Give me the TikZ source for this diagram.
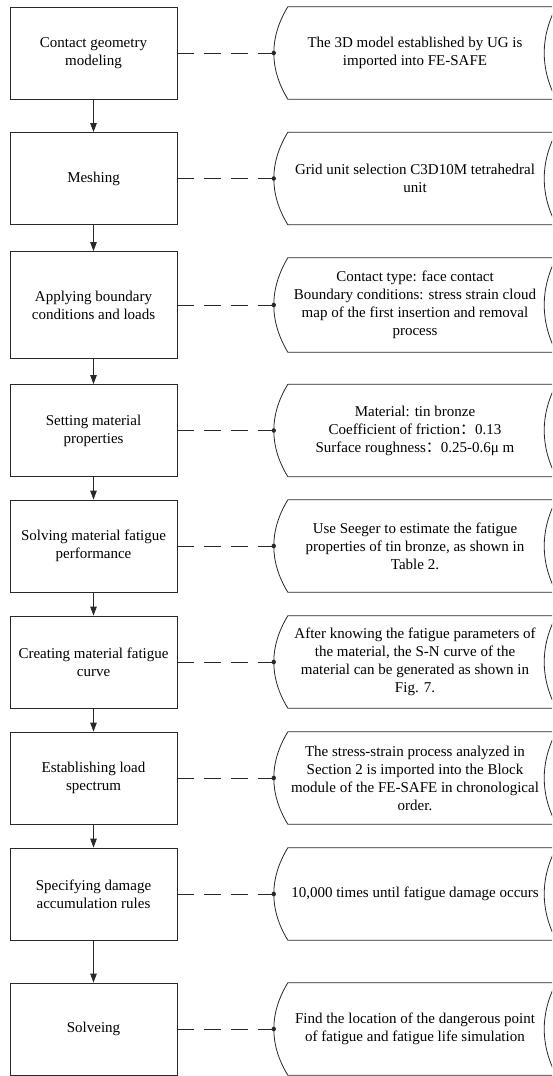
\documentclass[tikz,border=0pt]{standalone}
\usepackage{fontspec}
\setmainfont{Liberation Serif}
\newfontfamily\cjkfont{Noto Sans CJK SC}
\usetikzlibrary{arrows.meta,calc}
\definecolor{linecol}{RGB}{40,40,40}
\tikzset{
  stepbox/.style={draw=linecol, line width=0.8pt, minimum width=167pt, minimum height=92pt,
    align=center, inner sep=0pt, font=\fontsize{15}{18}\selectfont},
  infobox/.style={minimum width=282pt, minimum height=92pt, align=center, inner sep=0pt,
    font=\fontsize{15}{18}\selectfont},
  infoline/.style={draw=linecol, line width=0.8pt},
  flowarrow/.style={draw=linecol, line width=0.8pt, -{Triangle[length=9pt,width=6.5pt]}},
  dashlink/.style={draw=linecol, line width=0.8pt, dash pattern=on 17pt off 10pt},
}
\newcommand{\infoshape}[1]{%
  \draw[infoline] ($(#1.north west)+(14,0)$) -- ($(#1.north east)$)
    .. controls ($(#1.north east)!0.3333!(#1.south east)+(-16,0)$) and ($(#1.north east)!0.6667!(#1.south east)+(-16,0)$) .. (#1.south east)
    -- ($(#1.south west)+(14,0)$)
    .. controls ($(#1.south west)!0.3333!(#1.north west)+(-4.67,0)$) and ($(#1.south west)!0.6667!(#1.north west)+(-4.67,0)$) .. cycle;
  \fill[linecol] (#1.west) circle (2.2pt);}
\begin{document}
\begin{tikzpicture}[x=1pt,y=-1pt]
\useasboundingbox (0,0) rectangle (552,1076);
\clip (0,0) rectangle (552,1076);
% left step boxes
\node[stepbox] (b1) at (93.5,53) {Contact geometry\\modeling};
\node[stepbox] (b2) at (93.5,178.5) {Meshing};
\node[stepbox, minimum height=107pt] (b3) at (93.5,305) {Applying boundary\\conditions and loads};
\node[stepbox] (b4) at (93.5,430.5) {Setting material\\properties};
\node[stepbox] (b5) at (93.5,546) {Solving material fatigue\\performance};
\node[stepbox] (b6) at (93.5,662) {Creating material fatigue\\curve};
\node[stepbox] (b7) at (93.5,778) {Establishing load\\spectrum};
\node[stepbox] (b8) at (93.5,894) {Specifying damage\\accumulation rules};
\node[stepbox] (b9) at (93.5,1029) {Solveing};
% right info shapes
\node[infobox] (r1) at (415,53) {The 3D model established by UG is\\imported into FE-SAFE};
\node[infobox] (r2) at (415,178.5) {Grid unit selection C3D10M tetrahedral\\unit};
\node[infobox, minimum height=94pt] (r3) at (415,305) {Contact type: face contact\\Boundary conditions: stress strain cloud\\map of the first insertion and removal\\process};
\node[infobox] (r4) at (415,430.5) {Material: tin bronze\\Coefficient of friction{\cjkfont ：}0.13\\Surface roughness{\cjkfont ：}0.25-0.6μ\ m};
\node[infobox] (r5) at (415,546) {Use Seeger to estimate the fatigue\\properties of tin bronze, as shown in\\Table 2.};
\node[infobox] (r6) at (415,662) {After knowing the fatigue parameters of\\the material, the S-N curve of the\\material can be generated as shown in\\Fig. 7.};
\node[infobox] (r7) at (415,778) {The stress-strain process analyzed in\\Section 2 is imported into the Block\\module of the FE-SAFE in chronological\\order.};
\node[infobox] (r8) at (415,894) {10,000 times until fatigue damage occurs};
\node[infobox] (r9) at (415,1029) {Find the location of the dangerous point\\of fatigue and fatigue life simulation};
\foreach \i in {1,...,9}{\infoshape{r\i}}
% flow arrows
\foreach \a/\b in {b1/b2,b2/b3,b3/b4,b4/b5,b5/b6,b6/b7,b7/b8,b8/b9}{\draw[flowarrow] (\a.south) -- (\b.north);}
% dashed links
\foreach \i in {1,...,9}{\draw[dashlink] (b\i.east) -- (r\i.west);}
\end{tikzpicture}
\end{document}
